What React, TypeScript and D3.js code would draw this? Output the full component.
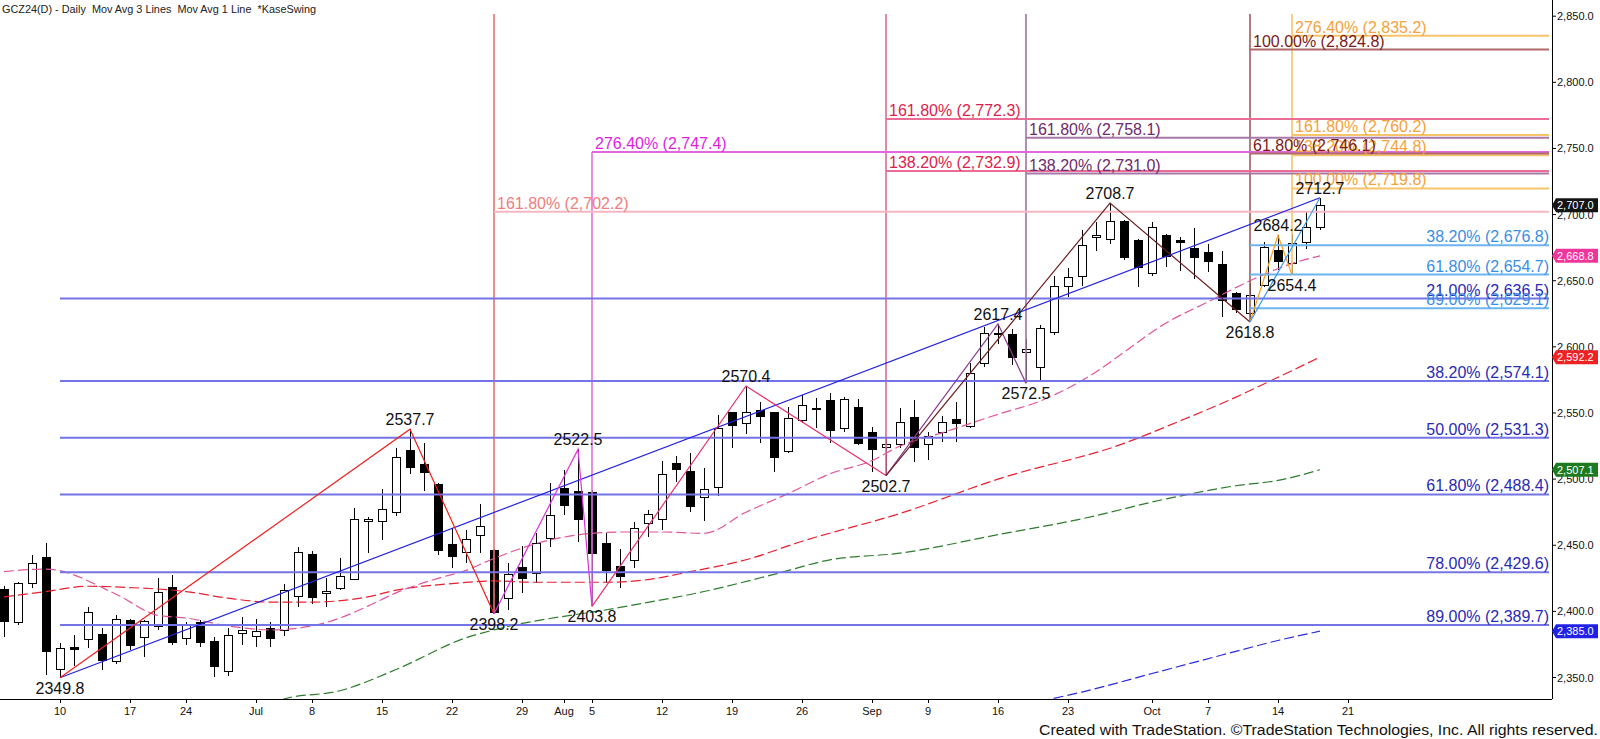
import React from "react";
import * as d3 from "d3";

// ---------- DATA ----------
const dates = [
  "Jun 4","Jun 5","Jun 6","Jun 7","Jun 10","Jun 11","Jun 12","Jun 13","Jun 14","Jun 17",
  "Jun 18","Jun 20","Jun 21","Jun 24","Jun 25","Jun 26","Jun 27","Jun 28","Jul 1","Jul 2",
  "Jul 3","Jul 5","Jul 8","Jul 9","Jul 10","Jul 11","Jul 12","Jul 15","Jul 16","Jul 17",
  "Jul 18","Jul 19","Jul 22","Jul 23","Jul 24","Jul 25","Jul 26","Jul 29","Jul 30","Jul 31",
  "Aug 1","Aug 2","Aug 5","Aug 6","Aug 7","Aug 8","Aug 9","Aug 12","Aug 13","Aug 14",
  "Aug 15","Aug 16","Aug 19","Aug 20","Aug 21","Aug 22","Aug 23","Aug 26","Aug 27","Aug 28",
  "Aug 29","Aug 30","Sep 3","Sep 4","Sep 5","Sep 6","Sep 9","Sep 10","Sep 11","Sep 12",
  "Sep 13","Sep 16","Sep 17","Sep 18","Sep 19","Sep 20","Sep 23","Sep 24","Sep 25","Sep 26",
  "Sep 27","Sep 30","Oct 1","Oct 2","Oct 3","Oct 4","Oct 7","Oct 8","Oct 9","Oct 10",
  "Oct 11","Oct 14","Oct 15","Oct 16","Oct 17",
];
const opens = [
  2416.2,2391.7,2421.2,2441.1,2356.2,2372.9,2378.4,2382.7,2362.0,2393.4,
  2380.1,2388.6,2418.2,2379.4,2391.7,2377.4,2354.4,2383.4,2380.9,2386.9,
  2385.9,2411.1,2443.1,2413.6,2417.1,2424.2,2468.0,2467.8,2474.6,2522.0,
  2511.2,2496.3,2450.7,2444.4,2457.2,2446.4,2409.6,2433.3,2428.8,2455.2,
  2493.0,2491.0,2490.0,2451.5,2434.0,2438.8,2466.6,2469.6,2512.1,2506.1,
  2486.2,2493.8,2550.2,2542.2,2552.2,2550.2,2521.2,2544.2,2553.1,2559.8,
  2538.4,2554.0,2535.3,2524.0,2526.5,2546.7,2526.5,2535.3,2545.4,2539.6,
  2587.5,2609.5,2609.5,2595.8,2584.5,2610.7,2645.5,2653.1,2682.6,2681.1,
  2694.9,2680.6,2655.4,2684.1,2680.2,2674.7,2671.0,2662.4,2640.4,2625.3,
  2646.6,2672.6,2663.0,2678.8,2689.9,
];
const highs = [
  2419.0,2422.4,2442.6,2451.5,2375.9,2382.1,2403.1,2387.2,2397.2,2394.5,
  2393.5,2425.0,2427.5,2392.2,2393.4,2380.9,2387.2,2395.5,2394.2,2392.2,
  2420.7,2448.9,2445.6,2425.0,2440.1,2477.9,2471.4,2492.5,2523.3,2537.7,
  2527.5,2496.8,2462.8,2461.5,2481.2,2447.5,2436.3,2449.6,2459.0,2496.8,
  2506.9,2522.5,2491.5,2459.0,2447.5,2467.3,2476.6,2513.7,2517.6,2519.5,
  2508.2,2548.5,2551.0,2570.4,2558.5,2551.0,2554.7,2563.6,2561.1,2564.9,
  2562.3,2560.3,2539.6,2530.8,2553.5,2559.8,2535.8,2547.7,2558.0,2587.5,
  2614.7,2617.4,2613.5,2606.0,2616.5,2653.6,2659.4,2688.7,2694.5,2708.7,
  2695.7,2681.9,2694.5,2685.0,2682.7,2690.1,2678.1,2672.6,2641.7,2647.9,
  2679.0,2684.2,2685.4,2701.8,2712.7,
];
const lows = [
  2380.4,2389.7,2417.9,2352.0,2349.8,2358.7,2372.1,2355.7,2360.5,2370.8,
  2365.3,2385.9,2374.6,2374.6,2372.8,2350.2,2351.1,2374.6,2372.8,2372.8,
  2381.4,2403.1,2405.4,2403.1,2416.4,2423.7,2443.9,2453.9,2472.1,2503.9,
  2491.2,2442.6,2432.5,2436.3,2444.4,2398.2,2401.0,2414.0,2421.2,2448.9,
  2472.9,2452.7,2403.8,2421.7,2418.0,2433.0,2456.0,2461.5,2498.0,2475.4,
  2468.6,2487.2,2523.3,2534.1,2527.5,2505.6,2519.5,2542.6,2538.4,2527.5,
  2535.8,2525.8,2505.6,2502.7,2523.3,2513.2,2514.5,2528.3,2528.3,2538.4,
  2584.5,2602.1,2586.2,2572.5,2574.4,2608.9,2638.0,2646.0,2672.5,2677.6,
  2665.4,2645.5,2653.6,2660.7,2657.4,2651.1,2656.7,2622.8,2625.3,2618.8,
  2645.0,2658.2,2654.4,2673.8,2688.3,
];
const closes = [
  2392.2,2420.7,2436.3,2369.5,2372.1,2371.3,2399.3,2362.7,2393.9,2374.1,
  2392.0,2414.4,2376.3,2389.2,2376.3,2358.2,2381.9,2385.2,2384.9,2379.4,
  2415.9,2444.6,2410.3,2415.2,2426.5,2469.6,2469.5,2477.2,2516.5,2508.6,
  2505.1,2445.9,2441.3,2454.5,2463.8,2399.0,2427.5,2425.0,2451.5,2472.6,
  2479.9,2469.1,2443.9,2430.7,2426.0,2462.6,2473.4,2503.6,2507.4,2479.1,
  2492.3,2537.9,2540.4,2550.5,2547.2,2516.2,2545.9,2555.3,2552.4,2537.1,
  2560.3,2527.0,2522.5,2525.8,2542.9,2524.0,2532.1,2542.9,2542.2,2580.0,
  2610.2,2610.0,2592.1,2598.1,2613.9,2646.0,2652.6,2676.8,2684.1,2694.5,
  2667.2,2659.9,2690.1,2668.2,2678.8,2667.2,2664.9,2635.4,2628.6,2638.6,
  2675.2,2664.5,2678.1,2690.5,2707.0,
];

// x-axis labels (bar index -> text)
const xTickIdx = [4,9,13,18,22,27,32,37,40,42,47,52,57,62,66,71,76,82,86,91,96];
const xTickText = ["10","17","24","Jul","8","15","22","29","Aug","5","12","19","26","Sep","9","16","23","Oct","7","14","21"];
const priceTicks = [2350,2400,2450,2500,2550,2600,2650,2700,2750,2800,2850];

// moving averages (bar index, value)
const maFastIdx = [0,3,8,11,13,16,19,22,24,26,28,31,33,35,39,42,44,47,50,53,56,59,62,64,67,71,74,78,80,83,86,89,92,94];
const maFastVal = [2430,2432,2413,2397,2395,2389,2386,2389,2395,2404,2414,2425,2431,2440,2454,2459,2460,2460,2459,2475,2489,2504,2514,2525,2535,2549,2559,2581,2596,2618,2634,2650,2663,2668.8];
const maMidIdx = [0,3,6,9,13,16,19,22,26,28,32,35,38,43,46,49,53,57,64,71,80,84,88,91,94];
const maMidVal = [2411,2415,2419,2418,2415,2410,2407,2407,2411,2416,2421,2423,2422,2422,2424,2430,2439,2453,2474,2500,2527,2544,2562,2577,2592.2];
const maLongIdx = [19,20,24,28,33,35,44,50,55,59,64,71,77,83,88,91,94];
const maLongVal = [2328,2333.7,2340,2356,2380,2386,2403,2415,2428,2439,2444,2458,2470,2485,2495,2499,2507.1];
const maSlowIdx = [74,77,82,87,91,94];
const maSlowVal = [2332,2339,2353,2367,2378,2385.0];

// Kase swing points
const swingIdx = [4,29,35,41,42,53,63,71,73,79,89,91,92,94];
const swingPrice = [2349.8,2537.7,2398.2,2522.5,2403.8,2570.4,2502.7,2617.4,2572.5,2708.7,2618.8,2684.2,2654.4,2712.7];
const swingHigh = [false,true,false,true,false,true,false,true,false,true,false,true,false,true];

// zigzag legs (bar index / price)
const legRed = [[4,2349.8],[29,2537.7],[35,2398.2]];
const legMagenta = [[35,2398.2],[41,2522.5],[42,2403.8]];
const legCrimson = [[42,2403.8],[53,2570.4],[63,2502.7]];
const legPurple = [[63,2502.7],[71,2617.4],[73,2572.5]];
const legBrown = [[63,2502.7],[79,2708.7],[89,2618.8]];
const legOrange = [[89,2618.8],[91,2684.2],[92,2654.4]];
const legLightBlue = [[89,2618.8],[94,2712.7]];
const trendBlue = [[4,2349.8],[94,2712.7]];

// Fibonacci levels
const fibPct = ["161.80%","276.40%","161.80%","138.20%","161.80%","138.20%","276.40%","161.80%","138.20%","100.00%","100.00%","61.80%",
  "21.00%","38.20%","50.00%","61.80%","78.00%","89.00%","38.20%","61.80%","89.00%"];
const fibPrice = [2702.2,2747.4,2772.3,2732.9,2758.1,2731.0,2835.2,2760.2,2744.8,2719.8,2824.8,2746.1,
  2636.5,2574.1,2531.3,2488.4,2429.6,2389.7,2676.8,2654.7,2629.1];
const fibSet = ["salmon","magenta","crimson","crimson","purple","purple","orange","orange","orange","orange","brown","brown",
  "navy","navy","navy","navy","navy","navy","sky","sky","sky"];

// anchor bars of each projection set and their swing lows
const setNames = ["salmon","magenta","crimson","purple","brown","orange","navy","sky"];
const setStartIdx = [35,42,63,73,89,92,4,89];
const setAnchorPrice = [2398.2,2403.8,2502.7,2572.5,2618.8,2654.4,2349.8,2618.8];

// last-value markers on the price axis
const markerPrice = [2707.0,2668.8,2592.2,2507.1,2385.0];

// ---------- STYLE ----------
const setStyle: Record<string, {line: string; text: string; vline: string | null; right: boolean}> = {
  salmon: { line: "#f5b8c2", text: "#f07c7c", vline: "#e47272", right: false },
  magenta: { line: "#e266e2", text: "#e01ee0", vline: "#e070e0", right: false },
  crimson: { line: "#ea6d95", text: "#dc1e4e", vline: "#dd6a95", right: false },
  purple: { line: "#a878a8", text: "#6e2a6e", vline: "#a070a8", right: false },
  brown: { line: "#b06a6a", text: "#7a1a1a", vline: "#a05a5a", right: false },
  orange: { line: "#f7c46a", text: "#f5a23a", vline: "#f7c46a", right: false },
  navy: { line: "#7474e6", text: "#2a2ab4", vline: null, right: true },
  sky: { line: "#6cb4f2", text: "#3a8ee6", vline: null, right: true },
};
const markerColor = ["#141414", "#f0359a", "#ee2222", "#1e7a1e", "#2020e8"];

const fmt = d3.format(",.1f");

export default function App() {
  const W = 1600, H = 739;
  const axisX = 1552, axisY = 699, lineEnd = 1549, topY = 14;
  const x = d3.scaleLinear().domain([0, 94]).range([4, 1320]);
  const y = d3.scaleLinear().domain([2350, 2850]).range([677.5, 16.2]);
  const font = "'Liberation Sans', Arial, Helvetica, sans-serif";

  const ma = (idx: number[], val: number[]) =>
    d3.line<number>().x((_, i) => x(idx[i])).y((v) => y(v)).curve(d3.curveMonotoneX)(val) || "";
  const leg = (pts: number[][]) =>
    d3.line<number[]>().x((p) => x(p[0])).y((p) => y(p[1]))(pts) || "";

  const setIndex = (name: string) => setNames.indexOf(name);

  return (
    <svg width={W} height={H} style={{ position: "absolute", left: 0, top: 0, background: "#fff" }} fontFamily={font}>
      <defs>
        <clipPath id="plotClip"><rect x={0} y={0} width={axisX} height={axisY} /></clipPath>
      </defs>
      <rect x={0} y={0} width={W} height={H} fill="#fff" />

      {/* title */}
      <text x={2} y={13} fontSize={11.5} fill="#222" style={{ whiteSpace: "pre" }} textLength={314} lengthAdjust="spacingAndGlyphs">
        {"GCZ24(D) - Daily  Mov Avg 3 Lines  Mov Avg 1 Line  *KaseSwing"}
      </text>

      <g clipPath="url(#plotClip)">
        {/* candles */}
        <g shapeRendering="crispEdges">
          {dates.map((d, i) => {
            const cx = Math.round(x(i));
            const o = opens[i], c = closes[i];
            const top = y(Math.max(o, c)), bot = y(Math.min(o, c));
            return (
              <g key={d}>
                <line x1={cx} x2={cx} y1={y(highs[i])} y2={y(lows[i])} stroke="#000" strokeWidth={1} />
                <rect x={cx - 4} y={top} width={8} height={Math.max(1, bot - top)}
                  fill={c >= o ? "#fff" : "#000"} stroke="#000" strokeWidth={1} />
              </g>
            );
          })}
        </g>

        {/* moving averages */}
        <path d={ma(maSlowIdx, maSlowVal)} fill="none" stroke="#2a2ae0" strokeWidth={1.2} strokeDasharray="10,4" />
        <path d={ma(maLongIdx, maLongVal)} fill="none" stroke="#2e7d2e" strokeWidth={1.2} strokeDasharray="10,4" />
        <path d={ma(maMidIdx, maMidVal)} fill="none" stroke="#e82030" strokeWidth={1.2} strokeDasharray="10,4" />
        <path d={ma(maFastIdx, maFastVal)} fill="none" stroke="#e0559a" strokeWidth={1.2} strokeDasharray="10,4" />

        {/* vertical anchor lines */}
        {setNames.map((s, k) => {
          const st = setStyle[s];
          if (!st.vline) return null;
          let yTop = topY;
          if (s === "magenta") yTop = y(fibPrice[fibSet.indexOf("magenta")]);
          return (
            <line key={"v" + s} x1={x(setStartIdx[k])} x2={x(setStartIdx[k])} y1={yTop} y2={y(setAnchorPrice[k])}
              stroke={st.vline} strokeWidth={1.6} />
          );
        })}

        {/* fib horizontal lines */}
        {fibPrice.map((p, i) => {
          const st = setStyle[fibSet[i]];
          const k = setIndex(fibSet[i]);
          return (
            <line key={"f" + i} x1={x(setStartIdx[k])} x2={lineEnd} y1={y(p)} y2={y(p)} stroke={st.line} strokeWidth={2} />
          );
        })}

        {/* trend line and swing legs */}
        <path d={leg(trendBlue)} fill="none" stroke="#2020e0" strokeWidth={1.2} />
        <path d={leg(legRed)} fill="none" stroke="#ee2020" strokeWidth={1.2} />
        <path d={leg(legMagenta)} fill="none" stroke="#e030e0" strokeWidth={1.2} />
        <path d={leg(legCrimson)} fill="none" stroke="#e8306a" strokeWidth={1.2} />
        <path d={leg(legPurple)} fill="none" stroke="#8a3a90" strokeWidth={1.2} />
        <path d={leg(legBrown)} fill="none" stroke="#6e1e1e" strokeWidth={1.2} />
        <path d={leg(legOrange)} fill="none" stroke="#f5a020" strokeWidth={1.2} />
        <path d={leg(legLightBlue)} fill="none" stroke="#3a9af0" strokeWidth={1.2} />
      </g>

      {/* fib labels */}
      {fibPrice.map((p, i) => {
        const st = setStyle[fibSet[i]];
        const k = setIndex(fibSet[i]);
        const txt = `${fibPct[i]} (${fmt(p)})`;
        return st.right ? (
          <text key={"t" + i} x={lineEnd} y={y(p) - 3} fontSize={16} fill={st.text} textAnchor="end">{txt}</text>
        ) : (
          <text key={"t" + i} x={x(setStartIdx[k]) + 3} y={y(p) - 3} fontSize={16} fill={st.text}>{txt}</text>
        );
      })}

      {/* swing labels */}
      {swingIdx.map((si, i) => (
        <text key={"s" + i} x={x(si)} y={swingHigh[i] ? y(swingPrice[i]) - 4 : y(swingPrice[i]) + 16}
          fontSize={16} fill="#111" textAnchor="middle">{swingPrice[i].toFixed(1)}</text>
      ))}

      {/* axes */}
      <line x1={0} x2={axisX} y1={axisY + 0.5} y2={axisY + 0.5} stroke="#000" strokeWidth={1} />
      <line x1={axisX + 0.5} x2={axisX + 0.5} y1={0} y2={axisY} stroke="#000" strokeWidth={1} />
      {xTickIdx.map((t, i) => (
        <g key={"x" + i}>
          <line x1={Math.round(x(t)) + 0.5} x2={Math.round(x(t)) + 0.5} y1={axisY} y2={axisY + 4} stroke="#000" />
          <text x={x(t)} y={715} fontSize={11} textAnchor="middle" fill="#111">{xTickText[i]}</text>
        </g>
      ))}
      {priceTicks.map((p) => (
        <g key={"p" + p}>
          <line x1={axisX} x2={axisX + 4} y1={y(p)} y2={y(p)} stroke="#000" />
          <text x={axisX + 5} y={y(p) + 4} fontSize={11} fill="#111">{fmt(p)}</text>
        </g>
      ))}

      {/* last value markers */}
      {markerPrice.map((p, i) => {
        const yc = y(p);
        return (
          <g key={"m" + i}>
            <path d={`M${axisX},${yc} L${axisX + 4},${yc - 7} L${W - 2},${yc - 7} L${W - 2},${yc + 7} L${axisX + 4},${yc + 7} Z`} fill={markerColor[i]} />
            <text x={axisX + 5} y={yc + 4} fontSize={11} fill="#fff">{fmt(p)}</text>
          </g>
        );
      })}

      {/* credit */}
      <text x={1039} y={735} fontSize={14} fill="#111" textLength={559} lengthAdjust="spacingAndGlyphs">
        Created with TradeStation. ©TradeStation Technologies, Inc. All rights reserved.
      </text>
    </svg>
  );
}
